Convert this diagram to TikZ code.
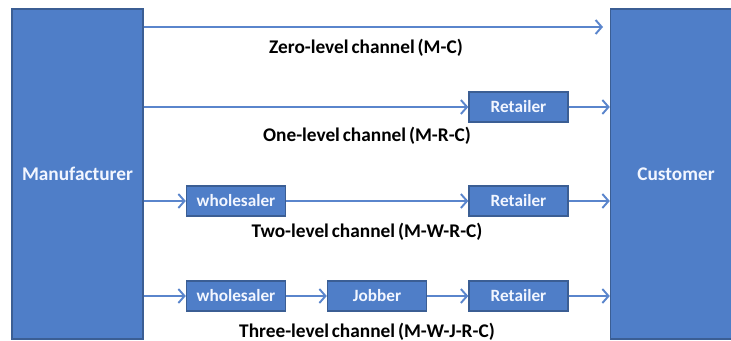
\documentclass[tikz,border=0pt]{standalone}
\usepackage{fontspec}
\setmainfont{Carlito}
\usetikzlibrary{arrows.meta}
\definecolor{boxblue}{HTML}{4F7EC8}
\definecolor{edgeblue}{HTML}{3B5E94}
\definecolor{lineblue}{HTML}{5A85CC}
\definecolor{boxtext}{HTML}{F2F6FF}
\tikzset{
  bigbox/.style={draw=edgeblue, fill=boxblue, line width=0.8pt, text=boxtext,
    minimum width=2.62cm, minimum height=6.6cm, inner sep=0pt,
    font=\bfseries\fontsize{11}{12}\selectfont},
  smallbox/.style={draw=edgeblue, fill=boxblue, line width=0.8pt, text=boxtext,
    minimum width=1.98cm, minimum height=0.6cm, inner sep=0pt,
    font=\bfseries\fontsize{9.8}{11}\selectfont},
  flow/.style={draw=lineblue, line width=1.1pt, -{Straight Barb[length=3.5pt,width=8pt]}},
  chanlabel/.style={font=\bfseries\fontsize{11}{12}\selectfont,
    execute at begin node={\spaceskip=0.15em\relax}}
}
\begin{document}
\begin{tikzpicture}
  \useasboundingbox (0,0) rectangle (14.62,-6.82);
  % end boxes
  \node[bigbox] (mfr) at (1.55,-3.48) {Manufacturer};
  \node[bigbox] (cust) at (13.52,-3.48) {Customer};
  % middlemen
  \node[smallbox] (r2) at (10.37,-2.14) {Retailer};
  \node[smallbox] (w3) at (4.72,-4.02) {wholesaler};
  \node[smallbox] (r3) at (10.37,-4.02) {Retailer};
  \node[smallbox] (w4) at (4.72,-5.92) {wholesaler};
  \node[smallbox] (j4) at (7.54,-5.92) {Jobber};
  \node[smallbox] (r4) at (10.37,-5.92) {Retailer};
  \coordinate (zend) at (12.06,-0.54);
  % channels
  \draw[flow] (mfr.east |- zend) -- (zend);
  \draw[flow] (mfr.east |- r2) -- (r2.west);
  \draw[flow] (r2.east) -- (r2.east -| cust.west);
  \draw[flow] (mfr.east |- w3) -- (w3.west);
  \draw[flow] (w3.east) -- (r3.west);
  \draw[flow] (r3.east) -- (r3.east -| cust.west);
  \draw[flow] (mfr.east |- w4) -- (w4.west);
  \draw[flow] (w4.east) -- (j4.west);
  \draw[flow] (j4.east) -- (r4.west);
  \draw[flow] (r4.east) -- (r4.east -| cust.west);
  % labels
  \node[chanlabel] (l0) at (7.32,-0.96) {Zero-level channel (M-C)};
  \node[chanlabel] (l1) at (7.34,-2.72) {One-level channel (M-R-C)};
  \node[chanlabel] (l2) at (7.34,-4.64) {Two-level channel (M-W-R-C)};
  \node[chanlabel] (l3) at (7.34,-6.64) {Three-level channel (M-W-J-R-C)};
\end{tikzpicture}
\end{document}
